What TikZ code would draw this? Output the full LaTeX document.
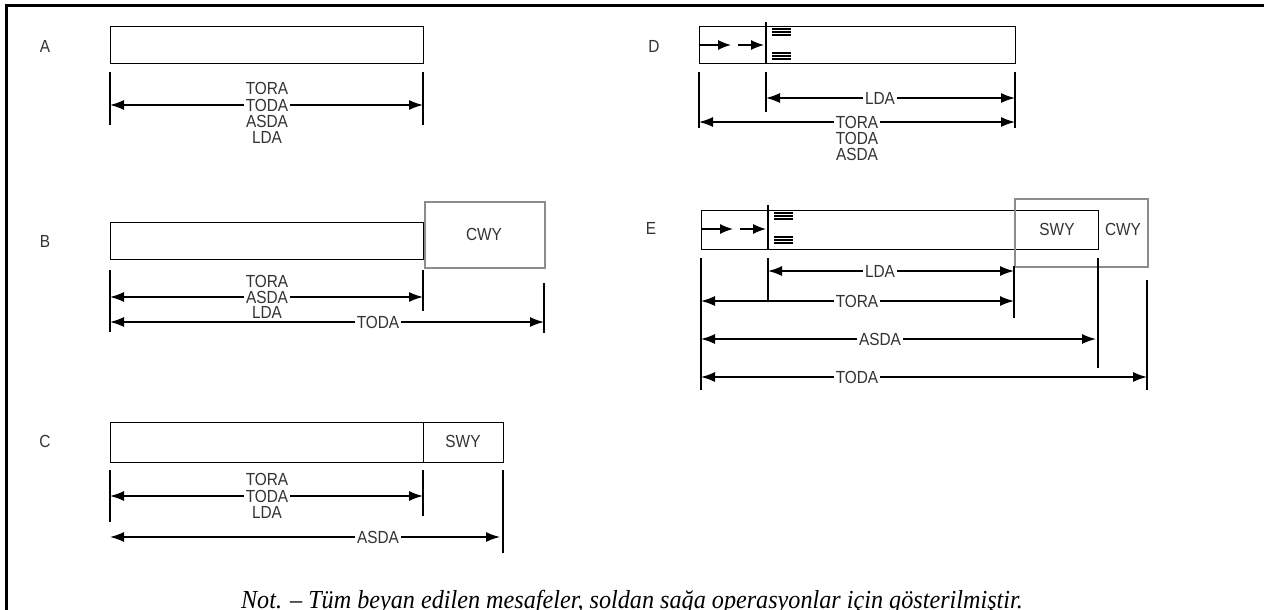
\documentclass[tikz,border=0pt]{standalone}
\usepackage{fontspec}
\setmainfont{Liberation Serif}
\newfontfamily\labfont[FakeStretch=0.88]{Liberation Sans}
\newfontfamily\notefont[FakeStretch=0.93]{Liberation Serif}
\usetikzlibrary{arrows.meta}
\begin{document}
\begin{tikzpicture}[x=1pt,y=-1pt,
  lbl/.style={font=\labfont\fontsize{17.5}{17.5}\selectfont, text=black!80, inner sep=0.5pt},
  wlbl/.style={lbl, fill=white, inner xsep=2pt},
  dimline/.style={line width=1.4pt, {Latex[length=14pt,width=10pt]}-{Latex[length=14pt,width=10pt]}},
  extline/.style={line width=1.2pt},
  rwy/.style={draw, line width=1.4pt, inner sep=0pt, anchor=north west},
  cwybox/.style={draw=black!45, line width=1.6pt, inner sep=0pt, anchor=north west},
  flow/.style={line width=1.3pt, -{Latex[length=13pt,width=10pt]}},
  hatch/.style={line width=1.1pt},
]
\useasboundingbox (0,0) rectangle (1264,610);
\fill[white] (0,0) rectangle (1264,610);
\draw[line width=3pt] (6,610) -- (6,6) -- (1264,6);

% ---------------- A
\node[lbl] (la) at (45,46) {A};
\node[rwy, minimum width=313pt, minimum height=37pt] (ra) at (110,26) {};
\coordinate (a1t) at (110,72); \coordinate (a1b) at (110,125);
\coordinate (a2t) at (423,72); \coordinate (a2b) at (423,125);
\draw[extline] (a1t) -- (a1b); \draw[extline] (a2t) -- (a2b);
\coordinate (a1m) at (110,105); \coordinate (a2m) at (423,105);
\draw[dimline] (a1m) -- (a2m);
\node[lbl] at (267,88) {TORA};
\node[wlbl] at (267,105) {TODA};
\node[lbl] at (267,121) {ASDA};
\node[lbl] at (267,137) {LDA};

% ---------------- B
\node[lbl] (lb) at (45,241) {B};
\node[rwy, minimum width=313pt, minimum height=37pt] (rb) at (110,222) {};
\node[cwybox, minimum width=120pt, minimum height=66pt] (cb) at (424,201) {};
\node[lbl] at (484,234) {CWY};
\coordinate (b1t) at (110,270); \coordinate (b1b) at (110,332);
\coordinate (b2t) at (423,270); \coordinate (b2b) at (423,311);
\coordinate (b3t) at (544,283); \coordinate (b3b) at (544,333);
\draw[extline] (b1t) -- (b1b); \draw[extline] (b2t) -- (b2b); \draw[extline] (b3t) -- (b3b);
\coordinate (b1m) at (110,297); \coordinate (b2m) at (423,297);
\coordinate (b1n) at (110,322); \coordinate (b3n) at (544,322);
\draw[dimline] (b1m) -- (b2m);
\draw[dimline] (b1n) -- (b3n);
\node[lbl] at (267,281) {TORA};
\node[wlbl] at (267,297) {ASDA};
\node[lbl] at (267,312) {LDA};
\node[wlbl] at (378,322) {TODA};

% ---------------- C
\node[lbl] (lc) at (45,441) {C};
\node[rwy, minimum width=313pt, minimum height=40pt] (rc) at (110,422) {};
\node[rwy, minimum width=80pt, minimum height=40pt] (sc) at (423,422) {};
\node[lbl] at (463,441) {SWY};
\coordinate (c1t) at (110,470); \coordinate (c1b) at (110,522);
\coordinate (c2t) at (423,470); \coordinate (c2b) at (423,516);
\coordinate (c3t) at (503,470); \coordinate (c3b) at (503,553);
\draw[extline] (c1t) -- (c1b); \draw[extline] (c2t) -- (c2b); \draw[extline] (c3t) -- (c3b);
\coordinate (c1m) at (110,496); \coordinate (c2m) at (423,496);
\coordinate (c1n) at (110,537); \coordinate (c3n) at (500,537);
\draw[dimline] (c1m) -- (c2m);
\draw[dimline] (c1n) -- (c3n);
\node[lbl] at (267,479) {TORA};
\node[wlbl] at (267,496) {TODA};
\node[lbl] at (267,512) {LDA};
\node[wlbl] at (378,537) {ASDA};

% ---------------- D
\node[lbl] (ld) at (654,46) {D};
\node[rwy, minimum width=316pt, minimum height=37pt] (rd) at (699,26) {};
\coordinate (dth1) at (766,22); \coordinate (dth2) at (766,63);
\draw[extline] (dth1) -- (dth2);
\coordinate (df1) at (699,45); \coordinate (df2) at (731,45);
\coordinate (df3) at (738,45); \coordinate (df4) at (764,45);
\draw[flow] (df1) -- (df2); \draw[flow] (df3) -- (df4);
\foreach \yy in {29,32,35,53,56,59} \draw[hatch] (772,\yy) -- (791,\yy);
\coordinate (d1t) at (699,72); \coordinate (d1b) at (699,128);
\coordinate (d2t) at (766,72); \coordinate (d2b) at (766,112);
\coordinate (d3t) at (1015,72); \coordinate (d3b) at (1015,128);
\draw[extline] (d1t) -- (d1b); \draw[extline] (d2t) -- (d2b); \draw[extline] (d3t) -- (d3b);
\coordinate (d2m) at (766,98); \coordinate (d3m) at (1015,98);
\coordinate (d1n) at (699,122); \coordinate (d3n) at (1015,122);
\draw[dimline] (d2m) -- (d3m);
\draw[dimline] (d1n) -- (d3n);
\node[wlbl] at (880,98) {LDA};
\node[wlbl] at (857,122) {TORA};
\node[lbl] at (857,138) {TODA};
\node[lbl] at (857,154) {ASDA};

% ---------------- E
\node[lbl] (le) at (651,228) {E};
\node[rwy, minimum width=397pt, minimum height=39pt] (re) at (701,210) {};
\node[cwybox, minimum width=133pt, minimum height=68pt] (ce) at (1014,198) {};
\coordinate (eth1) at (768,205); \coordinate (eth2) at (768,249);
\draw[extline] (eth1) -- (eth2);
\coordinate (ef1) at (701,229); \coordinate (ef2) at (733,229);
\coordinate (ef3) at (740,229); \coordinate (ef4) at (766,229);
\draw[flow] (ef1) -- (ef2); \draw[flow] (ef3) -- (ef4);
\foreach \yy in {213,216,219,237,240,243} \draw[hatch] (774,\yy) -- (793,\yy);
\node[lbl] at (1057,229) {SWY};
\node[lbl] at (1123,229) {CWY};
\coordinate (e1t) at (701,258); \coordinate (e1b) at (701,390);
\coordinate (e2t) at (768,258); \coordinate (e2b) at (768,300);
\coordinate (e3t) at (1014,266); \coordinate (e3b) at (1014,318);
\coordinate (e4t) at (1098,258); \coordinate (e4b) at (1098,368);
\coordinate (e5t) at (1147,280); \coordinate (e5b) at (1147,390);
\draw[extline] (e1t) -- (e1b); \draw[extline] (e2t) -- (e2b); \draw[extline] (e3t) -- (e3b);
\draw[extline] (e4t) -- (e4b); \draw[extline] (e5t) -- (e5b);
\coordinate (e2m) at (768,271); \coordinate (e3m) at (1014,271);
\coordinate (e1n) at (701,301); \coordinate (e3n) at (1014,301);
\coordinate (e1o) at (701,339); \coordinate (e4o) at (1096,339);
\coordinate (e1p) at (701,377); \coordinate (e5p) at (1147,377);
\draw[dimline] (e2m) -- (e3m);
\draw[dimline] (e1n) -- (e3n);
\draw[dimline] (e1o) -- (e4o);
\draw[dimline] (e1p) -- (e5p);
\node[wlbl] at (880,271) {LDA};
\node[wlbl] at (857,301) {TORA};
\node[wlbl] at (880,339) {ASDA};
\node[wlbl] at (857,377) {TODA};

% ---------------- note
\node[font=\notefont\fontsize{26}{26}\selectfont\itshape, anchor=base, inner sep=0pt] (note) at (632,608)
  {Not. – Tüm beyan edilen mesafeler, soldan sağa operasyonlar için gösterilmiştir.};
\end{tikzpicture}
\end{document}
